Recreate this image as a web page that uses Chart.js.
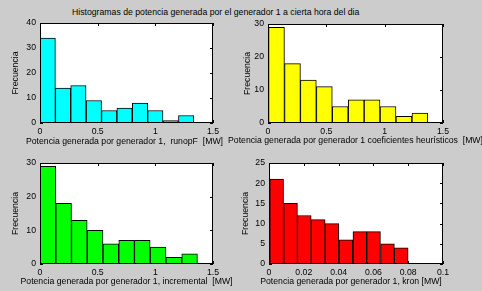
<!DOCTYPE html>
<html lang="es">
<head>
<meta charset="UTF-8">
<title>Histogramas de potencia generada</title>
<style>
    * { margin: 0; padding: 0; box-sizing: border-box; }
    body {
        background: #cccccc;
        font-family: "Liberation Sans", Arial, sans-serif;
    }
    .figure {
        position: relative;
        width: 482px;
        height: 291px;
        overflow: hidden;
    }
    .figure canvas {
        position: absolute;
        left: 0;
        top: 0;
    }
    .main-title {
        position: absolute;
        left: 72px;
        top: 7px;
        font-size: 8.7px;
        line-height: 10px;
        white-space: nowrap;
        color: #000;
    }
</style>
</head>
<body>
<div class="figure">
    <div class="main-title">Histogramas de potencia generada por el generador 1 a cierta hora del dia</div>
    <canvas id="runopf" width="482" height="291"></canvas>
    <canvas id="heur" width="482" height="291"></canvas>
    <canvas id="incr" width="482" height="291"></canvas>
    <canvas id="kron" width="482" height="291"></canvas>
</div>

<script src="https://cdn.jsdelivr.net/npm/chart.js"></script>
<script>
// bin centres and counts
const runopfCenters = [0.067, 0.2, 0.333, 0.467, 0.6, 0.733, 0.867, 1.0, 1.133, 1.267];
const runopfCounts = [34, 14, 15, 9, 5, 6, 8, 5, 1, 3];

const heurCenters = [0.073, 0.21, 0.346, 0.483, 0.619, 0.756, 0.892, 1.029, 1.165, 1.302];
const heurCounts = [29, 18, 13, 11, 5, 7, 7, 5, 2, 3];

const incrCenters = [0.068, 0.205, 0.341, 0.478, 0.614, 0.751, 0.887, 1.024, 1.16, 1.297];
const incrCounts = [29, 18, 13, 10, 6, 7, 7, 5, 2, 3];

const kronCenters = [0.0044, 0.0124, 0.0203, 0.0283, 0.0362, 0.0442, 0.0522, 0.0601, 0.0681, 0.076];
const kronCounts = [21, 15, 12, 11, 10, 6, 8, 8, 5, 4];

const yLabel = 'Frecuencia';

const W = 482, H = 291;
const FONT = '"Liberation Sans", Arial, sans-serif';
const FONT_SIZE = 8.7;
const Y_AXIS_W = 20;
const X_AXIS_H = 14;
const TICK_LEN = 3;

Chart.defaults.color = '#000';
Chart.defaults.font.family = FONT;
Chart.defaults.font.size = FONT_SIZE;

// white axes background, inward ticks on all sides, black box and axis labels
const matlabAxes = {
    id: 'matlabAxes',
    beforeDraw(chart) {
        const a = chart.chartArea;
        const ctx = chart.ctx;
        ctx.save();
        ctx.fillStyle = '#fff';
        ctx.fillRect(a.left, a.top, a.right - a.left, a.bottom - a.top);
        ctx.restore();
    },
    beforeDatasetsDraw(chart) {
        const a = chart.chartArea;
        const ctx = chart.ctx;
        const xs = chart.scales.x, ys = chart.scales.y;
        ctx.save();
        ctx.strokeStyle = '#000';
        ctx.lineWidth = 1;
        ctx.beginPath();
        xs.ticks.forEach((t, i) => {
            const px = Math.round(xs.getPixelForTick(i)) + 0.5;
            ctx.moveTo(px, a.bottom);
            ctx.lineTo(px, a.bottom - TICK_LEN);
            ctx.moveTo(px, a.top);
            ctx.lineTo(px, a.top + TICK_LEN);
        });
        ys.ticks.forEach((t, i) => {
            const py = Math.round(ys.getPixelForTick(i)) + 0.5;
            ctx.moveTo(a.left, py);
            ctx.lineTo(a.left + TICK_LEN, py);
            ctx.moveTo(a.right, py);
            ctx.lineTo(a.right - TICK_LEN, py);
        });
        ctx.stroke();
        ctx.restore();
    },
    afterDatasetsDraw(chart) {
        const a = chart.chartArea;
        const ctx = chart.ctx;
        ctx.save();
        ctx.strokeStyle = '#000';
        ctx.lineWidth = 1;
        ctx.strokeRect(a.left + 0.5, a.top + 0.5, a.right - a.left - 1, a.bottom - a.top - 1);
        ctx.restore();
    },
    afterDraw(chart, args, opts) {
        const a = chart.chartArea;
        const ctx = chart.ctx;
        ctx.save();
        ctx.fillStyle = '#000';
        ctx.font = FONT_SIZE + 'px ' + FONT;
        ctx.textAlign = 'center';
        ctx.textBaseline = 'middle';
        ctx.fillText(opts.xText, (a.left + a.right) / 2 + (opts.xDx || 0), a.bottom + opts.xGap);
        ctx.translate(a.left - opts.yGap, (a.top + a.bottom) / 2);
        ctx.rotate(-Math.PI / 2);
        ctx.fillText(opts.yText, 0, 0);
        ctx.restore();
    }
};

function fmt(v) {
    return String(+Number(v).toFixed(4));
}

function makeHist(id, o) {
    const [L, T, R, B] = o.rect;
    return new Chart(document.getElementById(id), {
        type: 'bar',
        data: {
            datasets: [{
                data: o.centers.map((c, i) => ({ x: c, y: o.counts[i] })),
                backgroundColor: o.color,
                borderColor: '#000',
                borderWidth: 1,
                borderSkipped: false,
                barPercentage: 1,
                categoryPercentage: 1
            }]
        },
        options: {
            responsive: false,
            animation: false,
            events: [],
            layout: {
                padding: { left: L - Y_AXIS_W, top: T, right: W - R, bottom: H - B - X_AXIS_H }
            },
            scales: {
                x: {
                    type: 'linear',
                    min: 0,
                    max: o.xMax,
                    offset: false,
                    grid: { display: false, drawTicks: false, offset: false },
                    border: { display: false },
                    ticks: { stepSize: o.xStep, padding: 3, maxRotation: 0, autoSkip: false, callback: fmt },
                    afterFit(s) { s.height = X_AXIS_H; s.paddingLeft = 0; s.paddingRight = 0; }
                },
                y: {
                    min: 0,
                    max: o.yMax,
                    grid: { display: false, drawTicks: false },
                    border: { display: false },
                    ticks: { stepSize: o.yStep, padding: 4, callback: fmt },
                    afterFit(s) { s.width = Y_AXIS_W; s.paddingTop = 0; s.paddingBottom = 0; }
                }
            },
            plugins: {
                legend: { display: false },
                tooltip: { enabled: false },
                matlabAxes: { xText: o.xLabel, xGap: o.xGap, xDx: o.xDx, yText: yLabel, yGap: o.yGap }
            }
        },
        plugins: [matlabAxes]
    });
}

makeHist('runopf', {
    centers: runopfCenters, counts: runopfCounts, color: '#00ffff',
    xMax: 1.5, xStep: 0.5, yMax: 40, yStep: 10,
    rect: [40, 23, 213, 123],
    xLabel: 'Potencia generada por generador 1,  runopF  [MW]', xGap: 19, xDx: -2, yGap: 24
});

makeHist('incr', {
    centers: incrCenters, counts: incrCounts, color: '#00ff00',
    xMax: 1.5, xStep: 0.5, yMax: 30, yStep: 10,
    rect: [40, 163, 213, 264],
    xLabel: 'Potencia generada por generador 1, incremental  [MW]', xGap: 18, xDx: 0, yGap: 24
});

makeHist('kron', {
    centers: kronCenters, counts: kronCounts, color: '#ff0000',
    xMax: 0.1, xStep: 0.02, yMax: 25, yStep: 5,
    rect: [269, 163, 443, 264],
    xLabel: 'Potencia generada por generador 1, kron [MW]', xGap: 18, xDx: -5, yGap: 23
});

// drawn last so its axis label sits over the neighbouring one, as in the figure
makeHist('heur', {
    centers: heurCenters, counts: heurCounts, color: '#ffff00',
    xMax: 1.5, xStep: 0.5, yMax: 30, yStep: 10,
    rect: [268, 24, 443, 123],
    xLabel: 'Potencia generada por generador 1 coeficientes heurísticos  [MW]', xGap: 18, xDx: 0, yGap: 20
});
</script>
</body>
</html>
